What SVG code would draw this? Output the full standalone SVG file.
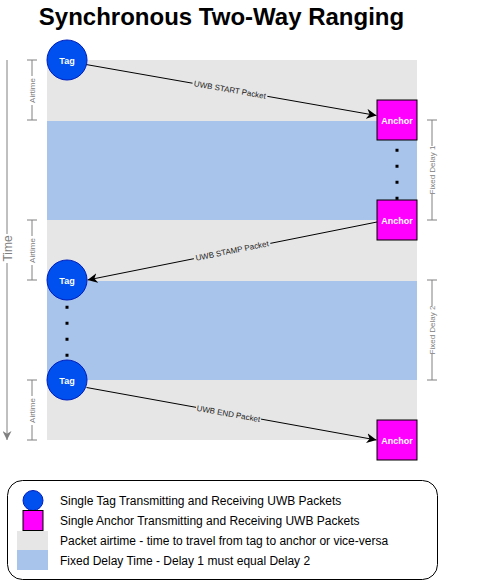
<svg xmlns="http://www.w3.org/2000/svg" width="478" height="581" viewBox="0 0 478 581">
<defs>
<style>
.tag{fill:#0050EF;stroke:#001DBC;stroke-width:1}
.anc{fill:#FF00FF;stroke:#000;stroke-width:1}
.nt{font-family:"Liberation Sans",Arial,sans-serif;font-size:9px;font-weight:bold;fill:#fff;text-anchor:middle}
.conn{stroke:#000;stroke-width:1;fill:none}
.lbl{font-family:"Liberation Sans",Arial,sans-serif;font-size:8px;fill:#222;text-anchor:middle}
.br{stroke:#808080;stroke-width:1;fill:none}
.bt{font-family:"Liberation Sans",Arial,sans-serif;font-size:8px;fill:#808080;text-anchor:middle}
.dots{stroke:#000;stroke-width:3;stroke-dasharray:3 13;fill:none}
.leg{font-family:"Liberation Sans",Arial,sans-serif;font-size:12px;fill:#000}
</style>
<marker id="arr" viewBox="0 0 10 10" refX="10" refY="5" markerWidth="10" markerHeight="10" markerUnits="userSpaceOnUse" orient="auto">
<path d="M0,0 L10,5 L0,10 L3,5 Z" fill="#000"/>
</marker>
<marker id="arrg" viewBox="0 0 10 10" refX="10" refY="5" markerWidth="9" markerHeight="9" markerUnits="userSpaceOnUse" orient="auto">
<path d="M0,0 L10,5 L0,10 L3,5 Z" fill="#808080"/>
</marker>
</defs>
<rect width="478" height="581" fill="#fff"/>
<text x="221.5" y="25" font-family="'Liberation Sans',Arial,sans-serif" font-size="24" font-weight="bold" text-anchor="middle">Synchronous Two-Way Ranging</text>

<g id="bands">
<rect x="47" y="60" width="370" height="380" fill="#E6E6E6"/>
<rect x="47" y="121" width="370" height="99" fill="#A9C4EB"/>
<rect x="47" y="281" width="370" height="99" fill="#A9C4EB"/>
</g>

<g id="time-axis">
<line class="br" x1="7" y1="60" x2="7" y2="440" marker-end="url(#arrg)"/>
<rect x="1" y="234" width="12" height="29" fill="#fff"/>
<text transform="translate(11.5,248.5) rotate(-90)" font-family="'Liberation Sans',Arial,sans-serif" font-size="12" fill="#808080" text-anchor="middle">Time</text>
</g>

<g id="airtime-brackets">
<path class="br" d="M32,60V120M27,60H37M27,120H37"/>
<rect x="27" y="76" width="10" height="29" fill="#fff"/>
<text class="bt" transform="translate(35,90.5) rotate(-90)">Airtime</text>
<path class="br" d="M32,220V280M27,220H37M27,280H37"/>
<rect x="27" y="236" width="10" height="29" fill="#fff"/>
<text class="bt" transform="translate(35,250.5) rotate(-90)">Airtime</text>
<path class="br" d="M32,380V440M27,380H37M27,440H37"/>
<rect x="27" y="396" width="10" height="29" fill="#fff"/>
<text class="bt" transform="translate(35,410.5) rotate(-90)">Airtime</text>
</g>

<g id="delay-brackets">
<path class="br" d="M432,120V220M427,120H437M427,220H437"/>
<rect x="427" y="146" width="10" height="48" fill="#fff"/>
<text class="bt" transform="translate(435,170) rotate(-90)">Fixed Delay 1</text>
<path class="br" d="M432,280V380M427,280H437M427,380H437"/>
<rect x="427" y="306" width="10" height="48" fill="#fff"/>
<text class="bt" transform="translate(435,330) rotate(-90)">Fixed Delay 2</text>
</g>

<g id="connectors">
<path class="dots" d="M397,148.7V200"/>
<path class="dots" d="M67,305.8V362"/>
<line class="conn" x1="86" y1="64.5" x2="376.5" y2="115.5" marker-end="url(#arr)"/>
<line class="conn" x1="377" y1="222" x2="87.5" y2="280" marker-end="url(#arr)"/>
<line class="conn" x1="86.5" y1="387.5" x2="376.5" y2="440" marker-end="url(#arr)"/>
<g transform="translate(230,89.5) rotate(10)">
<rect x="-38" y="-5" width="76" height="10" fill="#E6E6E6"/>
<text class="lbl" y="3">UWB START Packet</text>
</g>
<g transform="translate(232,250.5) rotate(-11.4)">
<rect x="-39" y="-5" width="78" height="10" fill="#E6E6E6"/>
<text class="lbl" y="3">UWB STAMP Packet</text>
</g>
<g transform="translate(228.5,413.5) rotate(10.2)">
<rect x="-33" y="-5" width="66" height="10" fill="#E6E6E6"/>
<text class="lbl" y="3">UWB END Packet</text>
</g>
</g>

<g id="tag1"><circle class="tag" cx="67" cy="60" r="20"/><text class="nt" x="67" y="63.5">Tag</text></g>
<g id="tag2"><circle class="tag" cx="67" cy="280" r="20"/><text class="nt" x="67" y="283.5">Tag</text></g>
<g id="tag3"><circle class="tag" cx="67" cy="380" r="20"/><text class="nt" x="67" y="383.5">Tag</text></g>
<g id="anchor1"><rect class="anc" x="377" y="100" width="40" height="40"/><text class="nt" x="397" y="123.5">Anchor</text></g>
<g id="anchor2"><rect class="anc" x="377" y="200" width="40" height="40"/><text class="nt" x="397" y="223.5">Anchor</text></g>
<g id="anchor3"><rect class="anc" x="377" y="420" width="40" height="40"/><text class="nt" x="397" y="443.5">Anchor</text></g>

<g id="legend">
<rect x="7.5" y="480.5" width="430" height="99" rx="15" ry="15" fill="#fff" stroke="#000" stroke-width="1"/>
<circle class="tag" cx="33" cy="500.5" r="10"/>
<rect class="anc" x="23" y="510.5" width="20" height="20"/>
<rect x="17" y="531" width="31" height="19" fill="#E6E6E6"/>
<rect x="17" y="550" width="31" height="20" fill="#A9C4EB"/>
<text class="leg" x="60" y="504.5">Single Tag Transmitting and Receiving UWB Packets</text>
<text class="leg" x="60" y="524.5">Single Anchor Transmitting and Receiving UWB Packets</text>
<text class="leg" x="60" y="544.5">Packet airtime - time to travel from tag to anchor or vice-versa</text>
<text class="leg" x="60" y="564.5">Fixed Delay Time - Delay 1 must equal Delay 2</text>
</g>
</svg>
